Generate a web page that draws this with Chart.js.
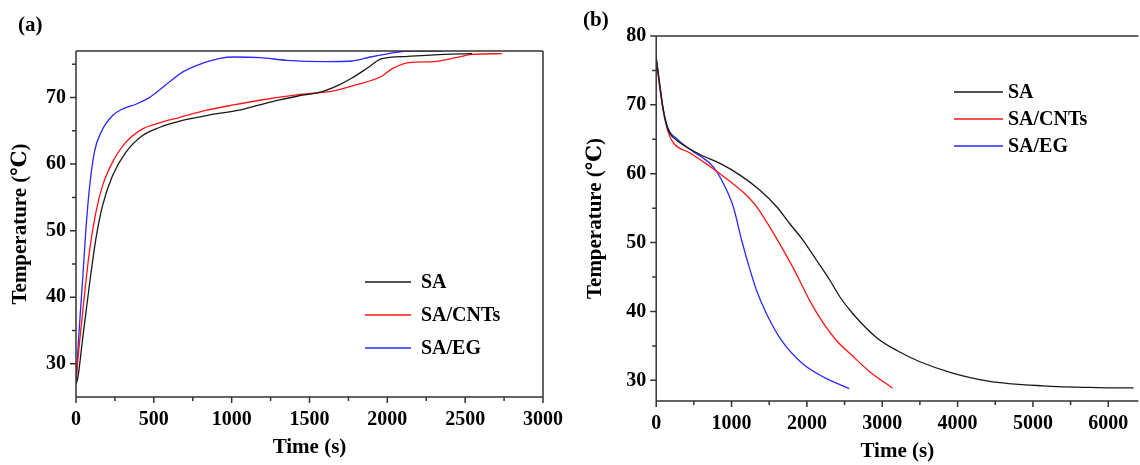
<!DOCTYPE html>
<html>
<head>
<meta charset="utf-8">
<script src="https://cdn.jsdelivr.net/npm/chart.js@4"></script>
<style>
  html, body { margin: 0; padding: 0; background: #fff; }
  #wrap { position: relative; width: 1140px; height: 465px; overflow: hidden; }
  .panel { position: absolute; top: 0; width: 570px; height: 465px; }
  .tag { position: absolute; font: bold 21px 'Liberation Serif', serif; color: #000; }
</style>
</head>
<body>
<div id="wrap">
  <div class="panel" style="left:0"><canvas id="chartA" width="570" height="465"></canvas></div>
  <div class="panel" style="left:570px"><canvas id="chartB" width="570" height="465"></canvas></div>
  <div class="tag" style="left:18px; top:12px">(a)</div>
  <div class="tag" style="left:583px; top:7px">(b)</div>
</div>
<script>
// Series names
const seriesNames = ['SA', 'SA/CNTs', 'SA/EG'];
const seriesColors = ['rgb(25,25,25)', 'rgb(255,20,20)', 'rgb(40,40,255)'];

// (a) heating curves: time (s) / temperature (°C)
const heatTimeSA = [0, 11, 43, 86, 128, 171, 235, 321, 428, 535, 690, 860, 1050, 1180, 1300, 1420, 1580, 1680, 1770, 1870, 1960, 2130, 2370, 2545];
const heatTempSA = [27, 27.8, 33.8, 41.8, 48.8, 53.8, 58.3, 61.8, 64.3, 65.5, 66.6, 67.4, 68.1, 68.9, 69.6, 70.2, 70.9, 71.8, 72.9, 74.4, 75.8, 76.2, 76.5, 76.6];
const heatTimeCNT = [0, 11, 43, 86, 128, 171, 235, 321, 428, 535, 663, 842, 1013, 1180, 1417, 1655, 1798, 1964, 2035, 2154, 2297, 2440, 2546, 2737];
const heatTempCNT = [27, 30.3, 37.8, 46.8, 52.8, 56.8, 60.3, 63.3, 65.3, 66.2, 67.0, 68.1, 68.9, 69.6, 70.4, 71.0, 71.9, 73.2, 74.4, 75.3, 75.4, 76.0, 76.5, 76.6];
const heatTimeEG = [0, 21, 43, 64, 86, 118, 161, 235, 300, 385, 471, 540, 603, 689, 817, 924, 1010, 1184, 1350, 1610, 1775, 1890, 2010, 2130, 2360];
const heatTempEG = [27.3, 35.3, 42.8, 50.3, 56.3, 61.8, 64.8, 67.3, 68.3, 69.0, 70.0, 71.2, 72.4, 73.9, 75.2, 75.9, 76.1, 76.0, 75.6, 75.4, 75.5, 76.1, 76.6, 77.0, 77.0];

// (b) cooling curves
const coolTimeSA = [0, 50, 95, 160, 270, 581, 847, 1112, 1378, 1599, 1776, 1952, 2130, 2307, 2439, 2616, 2926, 3200, 3500, 3923, 4406, 5130, 5854, 6336];
const coolTempSA = [76.8, 72.6, 69.2, 66.3, 64.9, 62.8, 61.5, 59.8, 57.6, 55.2, 52.7, 50.3, 47.4, 44.5, 42.1, 39.6, 36.2, 34.3, 32.7, 31.1, 29.9, 29.2, 28.95, 28.9];
const coolTimeCNT = [0, 50, 95, 160, 227, 449, 670, 847, 1156, 1334, 1510, 1687, 1820, 1908, 2041, 2218, 2395, 2600, 2850, 3136];
const coolTempCNT = [76.8, 72.3, 69.0, 66.0, 64.5, 63.0, 61.4, 60.0, 57.3, 55.2, 52.2, 48.9, 46.3, 44.4, 41.5, 38.3, 35.75, 33.6, 31.1, 28.9];
const coolTimeEG = [0, 50, 95, 160, 272, 493, 581, 758, 891, 1023, 1135, 1222, 1334, 1467, 1666, 1944, 2234, 2563];
const coolTempEG = [76.8, 72.8, 69.3, 66.5, 65.1, 63.2, 62.6, 61.0, 58.6, 55.2, 50.3, 46.9, 43.0, 39.6, 35.75, 32.4, 30.4, 28.8];

// Tick labels
const xLabelsA = [0, 500, 1000, 1500, 2000, 2500, 3000];
const yLabelsA = [30, 40, 50, 60, 70];
const xLabelsB = [0, 1000, 2000, 3000, 4000, 5000, 6000];
const yLabelsB = [30, 40, 50, 60, 70, 80];

const axisColor = '#333';
const fontFamily = "'Liberation Serif', 'DejaVu Serif', serif";

function toPoints(xs, ys) {
    return xs.map((x, i) => ({ x: x, y: ys[i] }));
}

function makeDatasets(pairs) {
    return pairs.map((p, i) => ({
        label: seriesNames[i],
        data: toPoints(p[0], p[1]),
        borderColor: seriesColors[i],
        borderWidth: 1.3,
        pointRadius: 0,
        fill: false,
        cubicInterpolationMode: 'monotone'
    }));
}

// Frame with outward major/minor ticks, drawn from the scales
const frameTicks = {
    id: 'frameTicks',
    afterDraw(chart, args, opts) {
        const { ctx, chartArea: a, scales: { x, y } } = chart;
        ctx.save();
        ctx.strokeStyle = axisColor;
        ctx.lineWidth = 1.5;
        ctx.beginPath();
        ctx.moveTo(a.left, a.top);
        ctx.lineTo(a.left, a.bottom);
        ctx.lineTo(a.right, a.bottom);
        ctx.moveTo(a.left, a.top);
        ctx.lineTo(a.right, a.top);
        if (opts.rightBorder) {
            ctx.moveTo(a.right, a.top);
            ctx.lineTo(a.right, a.bottom);
        }
        for (let v = 0; v <= x.max + 1e-6; v += opts.xMinor) {
            const px = x.getPixelForValue(v);
            const len = v % opts.xMajor === 0 ? 6 : 4;
            ctx.moveTo(px, a.bottom);
            ctx.lineTo(px, a.bottom + len);
        }
        for (let v = opts.yFirst; v <= y.max + 1e-6; v += opts.yMinor) {
            const py = y.getPixelForValue(v);
            const len = v % opts.yMajor === 0 ? 6 : 4;
            ctx.moveTo(a.left, py);
            ctx.lineTo(a.left - len, py);
        }
        ctx.stroke();
        ctx.restore();
    }
};

// Legend drawn at a fixed spot
const fixedLegend = {
    id: 'fixedLegend',
    afterDraw(chart, args, opts) {
        const ctx = chart.ctx;
        ctx.save();
        ctx.font = 'bold 20px ' + fontFamily;
        ctx.textBaseline = 'middle';
        ctx.fillStyle = '#000';
        chart.data.datasets.forEach((ds, i) => {
            const yy = opts.top + i * opts.gap;
            ctx.strokeStyle = ds.borderColor;
            ctx.lineWidth = 1.3;
            ctx.beginPath();
            ctx.moveTo(opts.left, yy);
            ctx.lineTo(opts.left + opts.lineLen, yy);
            ctx.stroke();
            ctx.fillText(ds.label, opts.textLeft, yy + 1);
        });
        ctx.restore();
    }
};

function buildChart(canvasId, datasets, cfg) {
    const tickFont = { family: fontFamily, size: 20, weight: 'bold' };
    const titleFont = { family: fontFamily, size: 21, weight: 'bold' };
    return new Chart(document.getElementById(canvasId).getContext('2d'), {
        type: 'line',
        data: { datasets: datasets },
        options: {
            responsive: false,
            animation: false,
            layout: { padding: { top: cfg.top, right: cfg.right, left: 0, bottom: 0 } },
            plugins: {
                legend: { display: false },
                tooltip: { enabled: false },
                frameTicks: cfg.ticks,
                fixedLegend: cfg.legend
            },
            scales: {
                x: {
                    type: 'linear',
                    min: 0,
                    max: cfg.xMax,
                    afterFit: s => { s.height = cfg.xHeight; },
                    afterBuildTicks: s => {
                        s.ticks = cfg.xLabels.map(v => ({ value: v }));
                    },
                    border: { display: false },
                    grid: { display: false, drawTicks: true, tickLength: 6 },
                    ticks: {
                        color: '#000', font: tickFont, padding: 5, maxRotation: 0, autoSkip: false,
                        callback: v => String(v)
                    },
                    title: { display: true, text: 'Time (s)', color: '#000', font: titleFont, padding: { top: 0, bottom: cfg.xTitlePad } }
                },
                y: {
                    type: 'linear',
                    min: cfg.yMin,
                    max: cfg.yMax,
                    afterFit: s => { s.width = cfg.yWidth; },
                    afterBuildTicks: s => {
                        s.ticks = cfg.yLabels.map(v => ({ value: v }));
                    },
                    border: { display: false },
                    grid: { display: false, drawTicks: true, tickLength: 6 },
                    ticks: { color: '#000', font: tickFont, padding: 4, autoSkip: false, callback: v => String(v) },
                    title: { display: true, text: 'Temperature (℃)', color: '#000', font: titleFont, padding: { top: cfg.yTitlePad, bottom: 0 } }
                }
            }
        },
        plugins: [frameTicks, fixedLegend]
    });
}

buildChart('chartA', makeDatasets([[heatTimeSA, heatTempSA], [heatTimeCNT, heatTempCNT], [heatTimeEG, heatTempEG]]), {
    top: 51, right: 27, xMax: 3000, xHeight: 68, yWidth: 76,
    yMin: 25, yMax: 77, xLabels: xLabelsA, yLabels: yLabelsA, xTitlePad: 5, yTitlePad: 8,
    ticks: { xMajor: 500, xMinor: 250, yMajor: 10, yMinor: 5, yFirst: 30, rightBorder: true },
    legend: { left: 365, lineLen: 46, textLeft: 421, top: 282, gap: 33 }
});

buildChart('chartB', makeDatasets([[coolTimeSA, coolTempSA], [coolTimeCNT, coolTempCNT], [coolTimeEG, coolTempEG]]), {
    top: 36, right: 1.6, xMax: 6400, xHeight: 64, yWidth: 86.2,
    yMin: 27, yMax: 80, xLabels: xLabelsB, yLabels: yLabelsB, xTitlePad: 1, yTitlePad: 13,
    ticks: { xMajor: 1000, xMinor: 500, yMajor: 10, yMinor: 5, yFirst: 30, rightBorder: false },
    legend: { left: 384, lineLen: 49, textLeft: 438, top: 92, gap: 27 }
});
</script>
</body>
</html>
